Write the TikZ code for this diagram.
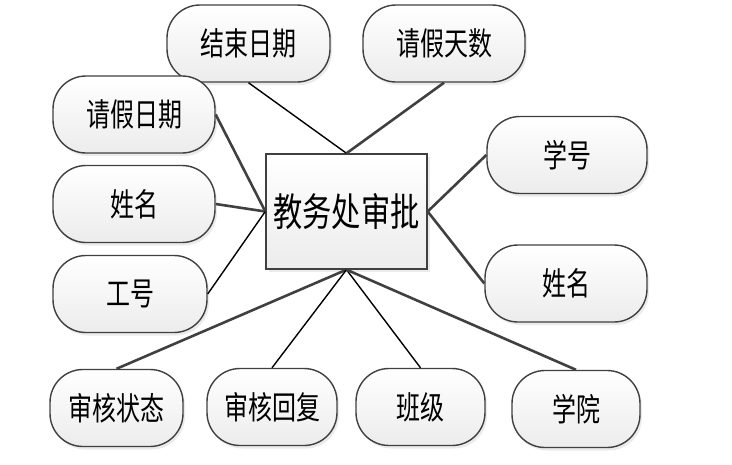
\documentclass[tikz,border=0pt]{standalone}
\usepackage{fontspec}
\newfontfamily\cjk[FakeStretch=0.75]{Noto Sans CJK SC}
\usetikzlibrary{shadows}
\definecolor{edgegray}{RGB}{64,64,64}
\definecolor{fillgray}{RGB}{236,236,236}

\tikzset{
  attr/.style={rectangle, rounded corners=33pt, draw=edgegray, line width=1.4pt,
    top color=white, bottom color=fillgray, minimum width=162pt,
    minimum height=77pt, inner sep=0pt,
    drop shadow={opacity=0.16, shadow xshift=2pt, shadow yshift=-3pt},
    font=\cjk\fontsize{32}{32}\selectfont},
  entity/.style={rectangle, draw=edgegray, line width=1.4pt,
    top color=white, bottom color=fillgray, minimum width=161pt,
    minimum height=115pt, inner sep=0pt,
    drop shadow={opacity=0.16, shadow xshift=3pt, shadow yshift=-3pt},
    font=\cjk\fontsize{39}{39}\selectfont},
  link/.style={edgegray, line width=2.6pt},
  thinlink/.style={black, line width=1.4pt}
}

\begin{document}
\begin{tikzpicture}[x=1pt,y=-1pt]
  \useasboundingbox (0,0) rectangle (732,464);

  % Entity
  \node[entity] (jwc) at (346.5,211.5) {教务处审批};

  % Attributes, top and left
  \node[attr, minimum width=163pt] (jsrq) at (248.5,43.5) {结束日期};
  \node[attr] (qjts) at (444,43.5) {请假天数};
  \node[attr] (qjrq) at (134,114.5) {请假日期};
  \node[attr] (xm1) at (134,204) {姓名};
  \node[attr, minimum width=154pt] (gh) at (130,294) {工号};

  % Attributes, right
  \node[attr, minimum width=160pt] (xh) at (567,155) {学号};
  \node[attr] (xm2) at (566,283.5) {姓名};

  % Attributes, bottom
  \node[attr, minimum width=133pt] (shzt) at (116.5,408) {审核状态};
  \node[attr, minimum width=130pt] (shhf) at (272,407) {审核回复};
  \node[attr, minimum width=129pt] (bj) at (420.5,407) {班级};
  \node[attr, minimum width=128pt] (xy) at (576,409) {学院};

  % Links
  \draw[thinlink] (jsrq.south) -- (jwc.north);
  \draw[link] (qjts.south) -- (jwc.north);
  \draw[link] (qjrq.east) -- (jwc.west);
  \draw[link] (xm1.east) -- (jwc.west);
  \draw[thinlink] (gh.east) -- (jwc.west);
  \draw[link] (xh.west) -- (jwc.east);
  \draw[link] (xm2.west) -- (jwc.east);
  \draw[link] (shzt.north) -- (jwc.south);
  \draw[thinlink] (shhf.north) -- (jwc.south);
  \draw[thinlink] (bj.north) -- (jwc.south);
  \draw[link] (xy.north) -- (jwc.south);
\end{tikzpicture}
\end{document}
